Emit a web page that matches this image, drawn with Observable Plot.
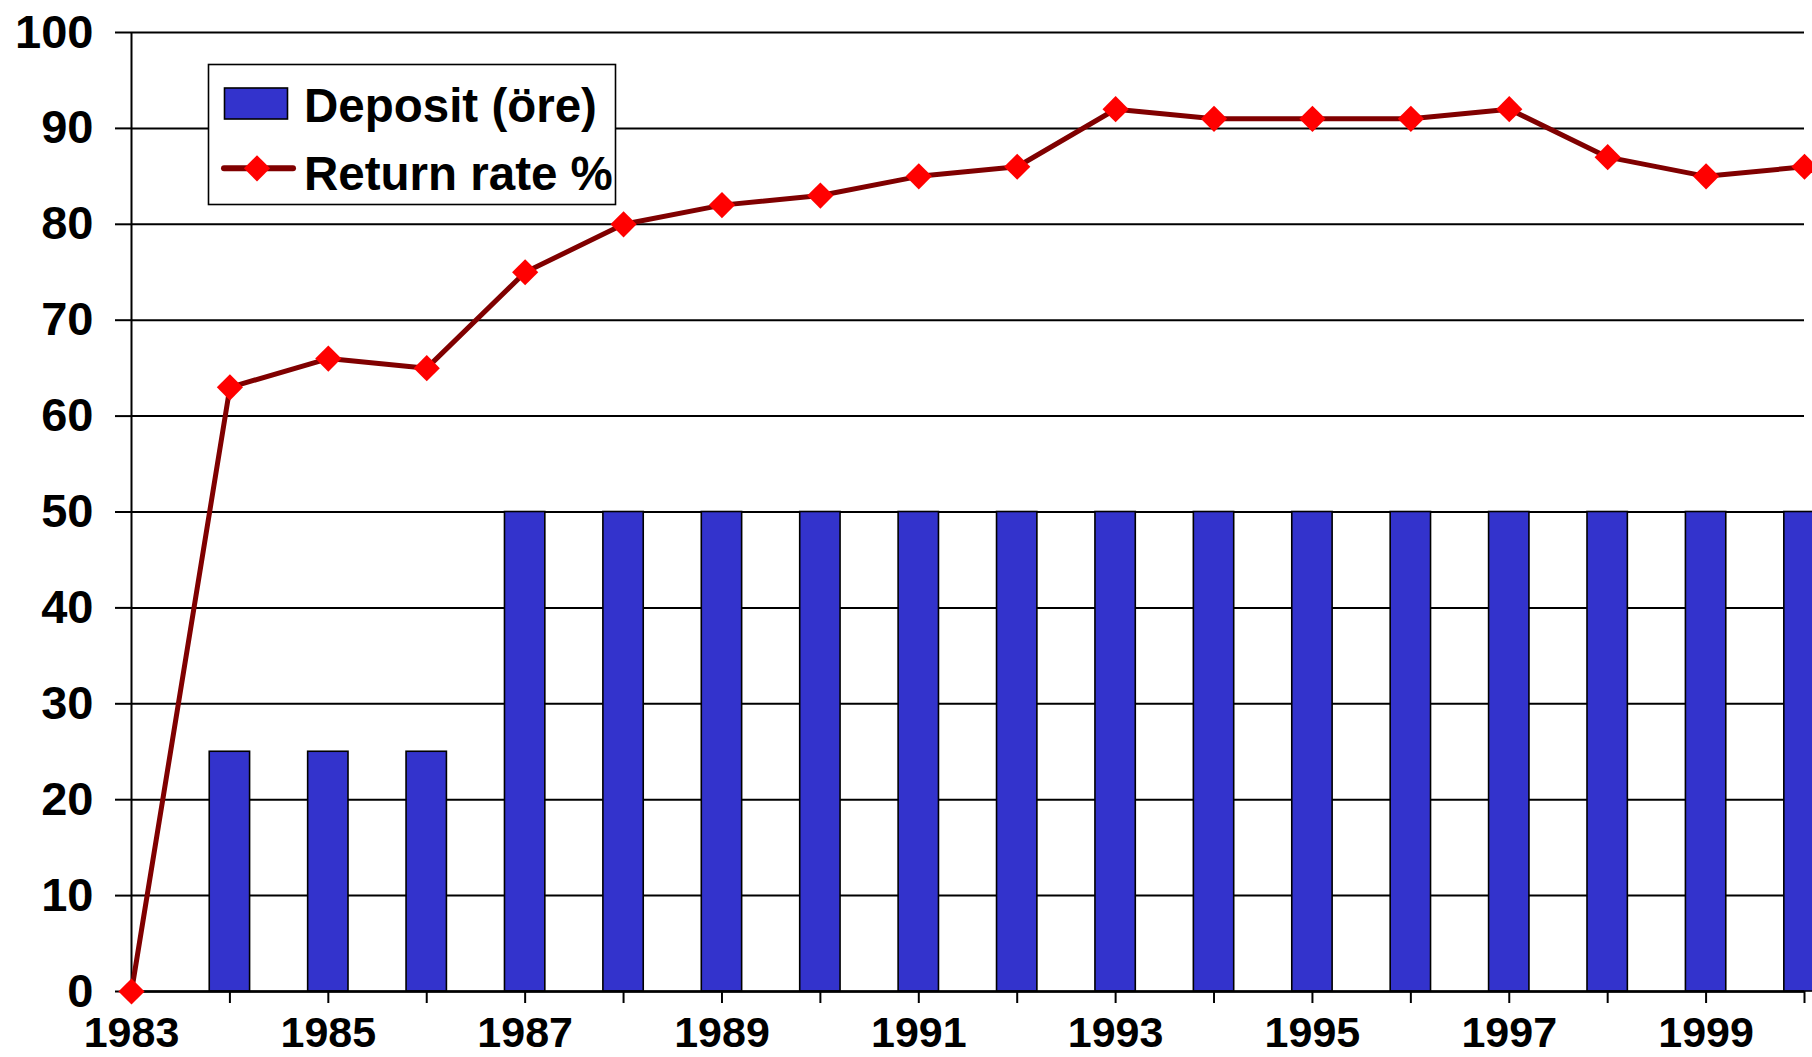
<!DOCTYPE html>
<html>
<head>
<meta charset="utf-8">
<script src="https://cdn.jsdelivr.net/npm/d3@7"></script>
<script src="https://cdn.jsdelivr.net/npm/@observablehq/plot@0.6"></script>
<style>
  body { margin: 0; background: #fff; }
  #chart { position: relative; width: 1812px; height: 1057px; overflow: hidden;
           font-family: "Liberation Sans", Arial, sans-serif; }
  #legend { position: absolute; left: 207px; top: 63px; }
</style>
</head>
<body>
<div id="chart"></div>
<script>
// Swedish can deposit scheme: deposit per can and share of cans returned
const years = [1983, 1984, 1985, 1986, 1987, 1988, 1989, 1990, 1991, 1992,
               1993, 1994, 1995, 1996, 1997, 1998, 1999, 2000];
const depositOre = [null, 25, 25, 25, 50, 50, 50, 50, 50, 50,
                    50, 50, 50, 50, 50, 50, 50, 50];
const returnRate = [0, 63, 66, 65, 75, 80, 82, 83, 85, 86,
                    92, 91, 91, 91, 92, 87, 85, 86];
const yTicks = [0, 10, 20, 30, 40, 50, 60, 70, 80, 90, 100];
const xLabelYears = [1983, 1985, 1987, 1989, 1991, 1993, 1995, 1997, 1999];

const rows = years.map((year, i) => ({year, deposit: depositOre[i], rate: returnRate[i]}));
const bars = rows.filter(d => d.deposit != null);
const labelled = new Set(xLabelYears);

const barHalf = 0.205; // half bar width, in years
const markerR = 11.8;

const plot = Plot.plot({
  width: 1812,
  height: 1057,
  marginLeft: 131,
  marginRight: 8,
  marginTop: 32,
  marginBottom: 66,
  style: {fontFamily: "'Liberation Sans', Arial, sans-serif", fontWeight: "bold", color: "#000", background: "#fff"},
  x: {domain: [1983, 2000]},
  y: {domain: [0, 100]},
  marks: [
    Plot.ruleY(yTicks, {stroke: "#000", strokeWidth: 2}),
    Plot.rectY(bars, {
      x1: d => d.year - barHalf,
      x2: d => d.year + barHalf,
      y: "deposit",
      fill: "#3333CC",
      stroke: "#000",
      strokeWidth: 1.6
    }),
    Plot.ruleY([0], {stroke: "#000", strokeWidth: 2.6}),
    Plot.ruleX([1983], {y1: 0, y2: 100, stroke: "#000", strokeWidth: 2}),
    Plot.axisY({
      ticks: yTicks,
      tickSize: 16,
      tickPadding: 22,
      strokeWidth: 2,
      fontSize: 47,
      label: null
    }),
    Plot.axisX({
      ticks: years,
      tickSize: 12,
      tickPadding: 13,
      strokeWidth: 2,
      fontSize: 43,
      tickFormat: d => labelled.has(d) ? String(d) : "",
      label: null
    }),
    Plot.line(rows, {x: "year", y: "rate", stroke: "#800000", strokeWidth: 5}),
    Plot.dot(rows, {x: "year", y: "rate", symbol: "diamond2", r: markerR, fill: "#FF0000", stroke: "none"})
  ]
});

const chart = document.getElementById("chart");
chart.appendChild(plot);

// Legend box drawn over the upper-left part of the plot
const leg = d3.create("svg")
  .attr("id", "legend")
  .attr("width", 411)
  .attr("height", 144)
  .style("font-family", "'Liberation Sans', Arial, sans-serif")
  .style("font-weight", "bold");
leg.append("rect").attr("x", 1.5).attr("y", 1.5).attr("width", 407).attr("height", 140)
  .attr("fill", "#fff").attr("stroke", "#000").attr("stroke-width", 1.6);
leg.append("rect").attr("x", 17.5).attr("y", 25).attr("width", 63).attr("height", 31)
  .attr("fill", "#3333CC").attr("stroke", "#000").attr("stroke-width", 1.6);
leg.append("text").attr("x", 97).attr("y", 58.5).attr("font-size", 47.5).attr("fill", "#000")
  .text("Deposit (öre)");
leg.append("line").attr("x1", 17).attr("x2", 86).attr("y1", 105.3).attr("y2", 105.3)
  .attr("stroke", "#800000").attr("stroke-width", 6).attr("stroke-linecap", "round");
leg.append("path").attr("d", d3.symbol(d3.symbolDiamond2, Math.PI * markerR * markerR)())
  .attr("transform", "translate(50,105.3)").attr("fill", "#FF0000");
leg.append("text").attr("x", 97).attr("y", 127).attr("font-size", 47.5).attr("fill", "#000")
  .text("Return rate %");
chart.appendChild(leg.node());
</script>
</body>
</html>
